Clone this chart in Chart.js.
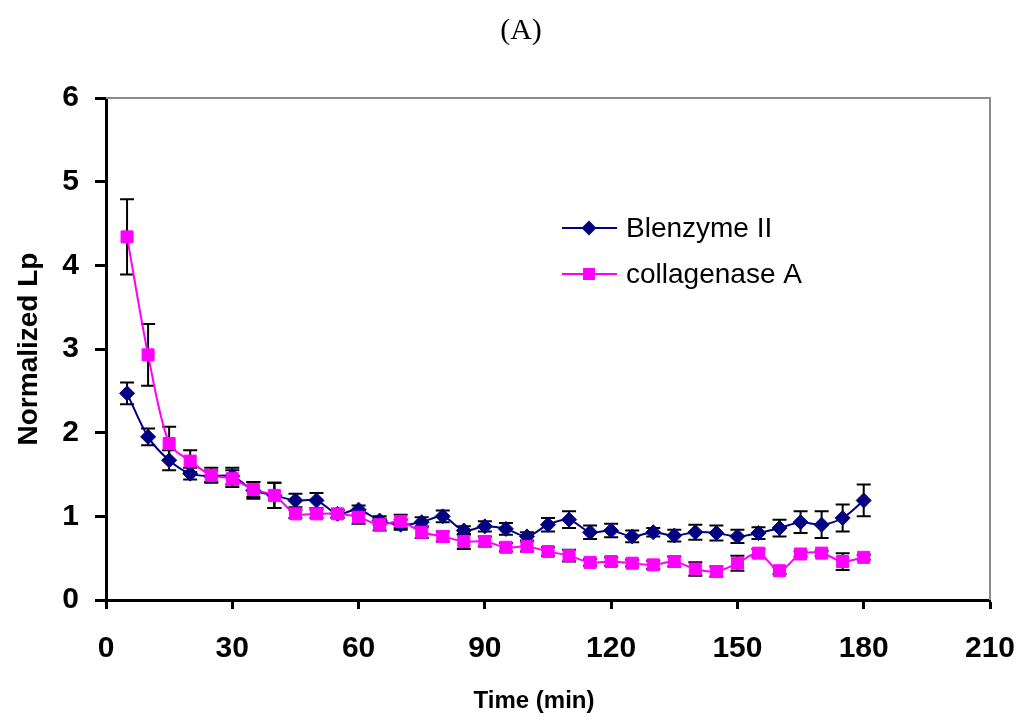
<!DOCTYPE html>
<html>
<head>
<meta charset="utf-8">
<script src="https://cdn.jsdelivr.net/npm/chart.js@4.4.1/dist/chart.umd.min.js"></script>
<style>
  html, body { margin: 0; padding: 0; background: #fff; }
  #wrap { width: 1024px; height: 726px; }
</style>
</head>
<body>
<div id="wrap"><canvas id="lp" width="1024" height="726"></canvas></div>
<script>
// ── Data ──────────────────────────────────────────────────────
const times = [5, 10, 15, 20, 25, 30, 35, 40, 45, 50, 55, 60, 65, 70, 75, 80, 85, 90,
               95, 100, 105, 110, 115, 120, 125, 130, 135, 140, 145, 150, 155, 160, 165, 170, 175, 180];

const blenzyme = [2.47, 1.95, 1.67, 1.51, 1.48, 1.48, 1.31, 1.25, 1.19, 1.19, 1.03, 1.08,
                  0.95, 0.90, 0.93, 1.00, 0.83, 0.88, 0.85, 0.76, 0.90, 0.96, 0.81, 0.83,
                  0.76, 0.81, 0.77, 0.81, 0.80, 0.76, 0.80, 0.86, 0.93, 0.90, 0.98, 1.19];
const blenzymeErr = [0.13, 0.10, 0.12, 0.07, 0.07, 0.10, 0.10, 0.15, 0.08, 0.09, 0.05, 0.05,
                     0.05, 0.06, 0.06, 0.07, 0.05, 0.06, 0.07, 0.05, 0.08, 0.10, 0.08, 0.08,
                     0.07, 0.05, 0.07, 0.09, 0.09, 0.08, 0.07, 0.10, 0.13, 0.16, 0.16, 0.19];

const collagenase = [4.34, 2.93, 1.87, 1.66, 1.49, 1.45, 1.32, 1.25, 1.03, 1.03, 1.03, 0.99,
                     0.90, 0.94, 0.81, 0.76, 0.70, 0.70, 0.63, 0.64, 0.58, 0.53, 0.45, 0.46,
                     0.44, 0.42, 0.46, 0.37, 0.34, 0.44, 0.56, 0.35, 0.55, 0.56, 0.46, 0.51];
const collagenaseErr = [0.45, 0.37, 0.20, 0.13, 0.09, 0.10, 0.09, 0.15, 0.05, 0.05, 0.04, 0.08,
                        0.07, 0.08, 0.07, 0.06, 0.09, 0.06, 0.05, 0.06, 0.05, 0.07, 0.04, 0.05,
                        0.04, 0.05, 0.06, 0.08, 0.06, 0.09, 0.05, 0.04, 0.03, 0.03, 0.10, 0.03];

const seriesNames = ["Blenzyme II", "collagenase A"];
const xTicks = [0, 30, 60, 90, 120, 150, 180, 210];
const yTicks = [0, 1, 2, 3, 4, 5, 6];

// ── Palette ───────────────────────────────────────────────────
const NAVY = "#000080";
const MAGENTA = "#ff00ff";
const FONT = "'Liberation Sans', Arial, sans-serif";

const toPoints = (ys) => times.map((t, i) => ({ x: t, y: ys[i] }));

// error bars, drawn under the markers
const errorBars = {
  id: "errorBars",
  beforeDatasetsDraw(chart) {
    const { ctx, scales: { x, y } } = chart;
    const sets = [[blenzyme, blenzymeErr], [collagenase, collagenaseErr]];
    ctx.save();
    ctx.strokeStyle = "#000";
    ctx.lineWidth = 2;
    sets.forEach(([vals, errs]) => {
      vals.forEach((v, i) => {
        const px = x.getPixelForValue(times[i]);
        const top = y.getPixelForValue(v + errs[i]);
        const bot = y.getPixelForValue(v - errs[i]);
        ctx.beginPath();
        ctx.moveTo(px, top); ctx.lineTo(px, bot);
        ctx.moveTo(px - 7, top); ctx.lineTo(px + 7, top);
        ctx.moveTo(px - 7, bot); ctx.lineTo(px + 7, bot);
        ctx.stroke();
      });
    });
    ctx.restore();
  }
};

// grey frame on top/right, titles and legend
const decor = {
  id: "decor",
  beforeDatasetsDraw(chart) {
    const { ctx, chartArea: a } = chart;
    ctx.save();
    ctx.strokeStyle = "#8c8c8c";
    ctx.lineWidth = 2;
    ctx.beginPath();
    ctx.moveTo(a.left, a.top); ctx.lineTo(a.right, a.top); ctx.lineTo(a.right, a.bottom);
    ctx.stroke();
    ctx.restore();
  },
  afterDraw(chart) {
    const { ctx } = chart;
    ctx.save();
    ctx.fillStyle = "#000";
    ctx.font = "30px 'Liberation Serif', 'Times New Roman', serif";
    ctx.textAlign = "center";
    ctx.textBaseline = "alphabetic";
    ctx.fillText("(A)", 521, 39);

    // x axis title sits a little left of the plot centre in the original
    ctx.font = "bold 24px " + FONT;
    ctx.textBaseline = "middle";
    ctx.fillText("Time (min)", 534, 701);

    const rows = [
      { name: seriesNames[0], color: NAVY, style: "rectRot", r: 6, y: 228 },
      { name: seriesNames[1], color: MAGENTA, style: "rect", r: 7, y: 274 },
    ];
    rows.forEach(row => {
      ctx.strokeStyle = row.color;
      ctx.lineWidth = 2;
      ctx.beginPath();
      ctx.moveTo(562, row.y); ctx.lineTo(617, row.y);
      ctx.stroke();
      ctx.fillStyle = row.color;
      Chart.helpers.drawPoint(ctx, { pointStyle: row.style, radius: row.r, rotation: 0, borderWidth: 1 }, 589, row.y);
      ctx.fillStyle = "#000";
      ctx.font = "28px " + FONT;
      ctx.textAlign = "left";
      ctx.textBaseline = "middle";
      ctx.fillText(row.name, 626, row.y + 1);
    });
    ctx.restore();
  }
};

new Chart(document.getElementById("lp"), {
  type: "line",
  data: {
    datasets: [
      {
        label: seriesNames[0],
        data: toPoints(blenzyme),
        borderColor: NAVY,
        backgroundColor: NAVY,
        borderWidth: 2,
        pointStyle: "rectRot",
        pointRadius: 7.5,
        pointBorderWidth: 1,
        tension: 0.3,
        order: 2,
      },
      {
        label: seriesNames[1],
        data: toPoints(collagenase),
        borderColor: MAGENTA,
        backgroundColor: MAGENTA,
        borderWidth: 2,
        pointStyle: "rect",
        pointRadius: 8.5,
        pointBorderWidth: 1,
        tension: 0.3,
        order: 1,
      },
    ]
  },
  options: {
    responsive: false,
    animation: false,
    layout: { padding: { top: 98, right: 34, bottom: 0, left: 0 } },
    plugins: {
      legend: { display: false },
      tooltip: { enabled: false },
    },
    scales: {
      x: {
        type: "linear",
        min: 0, max: 210,
        afterFit(s) { s.height = 126; s.paddingLeft = 0; s.paddingRight = 0; },
        afterBuildTicks(s) { s.ticks = xTicks.map(v => ({ value: v })); },
        border: { color: "#000", width: 3 },
        grid: { drawOnChartArea: false, drawTicks: true, tickLength: 9, tickColor: "#000", tickWidth: 3 },
        ticks: { color: "#000", padding: 22, maxRotation: 0, font: { family: FONT, size: 30, weight: "bold" } },
        title: { display: false }
      },
      y: {
        min: 0, max: 6,
        afterFit(s) { s.width = 106; },
        afterBuildTicks(s) { s.ticks = yTicks.map(v => ({ value: v })); },
        border: { color: "#000", width: 3 },
        grid: { drawOnChartArea: false, drawTicks: true, tickLength: 11, tickColor: "#000", tickWidth: 3 },
        ticks: { color: "#000", padding: 16, font: { family: FONT, size: 30, weight: "bold" } },
        title: {
          display: true, text: "Normalized Lp", color: "#000",
          padding: { top: 12, bottom: 0 },
          font: { family: FONT, size: 28, weight: "bold" }
        }
      }
    }
  },
  plugins: [errorBars, decor]
});
</script>
</body>
</html>
